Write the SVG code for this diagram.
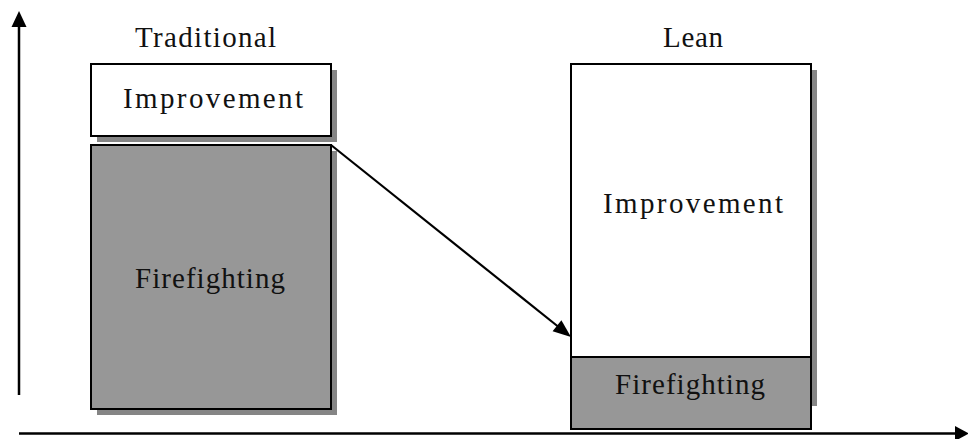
<svg xmlns="http://www.w3.org/2000/svg" width="968" height="439" viewBox="0 0 968 439">
<style>
.shadow{fill:#858585;stroke:none}
.white{fill:#ffffff;stroke:#000;stroke-width:2}
.gray{fill:#979797;stroke:#000;stroke-width:2}
.lbl{font-family:"Liberation Serif","Times New Roman",serif;font-size:29px;fill:#111}
.ax{stroke:#000;stroke-width:2.5;fill:none}
.conn{stroke:#000;stroke-width:2.2;fill:none}
.head{fill:#000;stroke:none}
</style>
<rect width="968" height="439" fill="#fff"/>
<g id="axes">
<line class="ax" x1="19" y1="395" x2="19" y2="24"/>
<path class="head" d="M11.5,27 L19,11 L26.5,27 z"/>
<line class="ax" x1="19" y1="433.5" x2="957" y2="433.5"/>
<path class="head" d="M955,426 L969,433.5 L955,441 z"/>
</g>
<g id="title-traditional"><text class="lbl" x="135" y="47" textLength="141" lengthAdjust="spacing">Traditional</text></g>
<g id="title-lean"><text class="lbl" x="663" y="47" textLength="60" lengthAdjust="spacing">Lean</text></g>
<g id="trad-improvement">
<rect class="shadow" x="97" y="70" width="240" height="72"/>
<rect class="white" x="91" y="64" width="240" height="72"/>
<text class="lbl" x="123" y="108" textLength="180" lengthAdjust="spacing">Improvement</text>
</g>
<g id="trad-firefighting">
<rect class="shadow" x="97" y="151" width="240" height="264"/>
<rect class="gray" x="91" y="145" width="240" height="264"/>
<text class="lbl" x="135" y="288" textLength="150" lengthAdjust="spacing">Firefighting</text>
</g>
<g id="lean">
<rect class="shadow" x="577" y="70" width="240" height="336"/>
<rect class="white" x="571" y="64" width="240" height="293"/>
<rect class="gray" x="571" y="357" width="240" height="72"/>
<text class="lbl" x="603" y="213" textLength="180" lengthAdjust="spacing">Improvement</text>
<text class="lbl" x="615" y="394" textLength="150" lengthAdjust="spacing">Firefighting</text>
</g>
<g id="connectors">
<line class="conn" x1="331" y1="145" x2="558" y2="326.5"/>
<path class="head" d="M571,337 L552.6,331.2 L561.4,320.3 z"/>
</g>
</svg>
